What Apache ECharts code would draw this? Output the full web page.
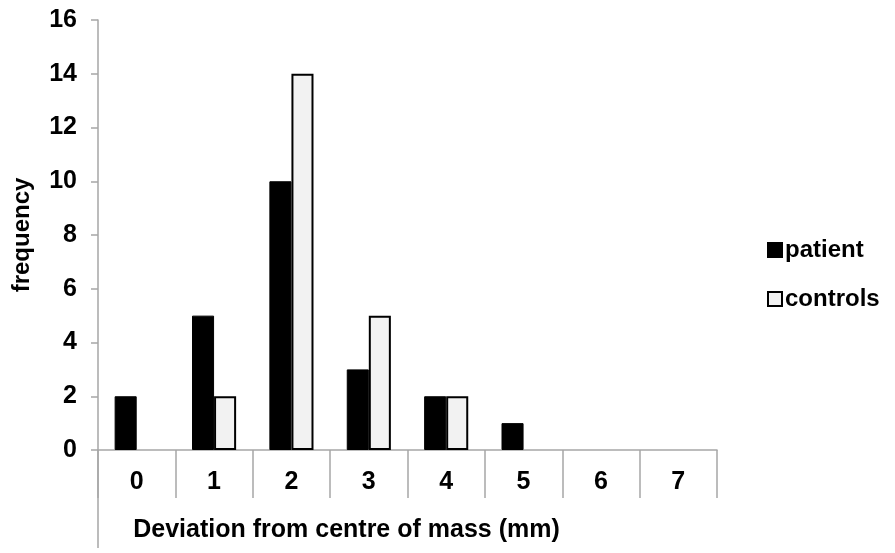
<!DOCTYPE html>
<html><head><meta charset="utf-8">
<script src="https://cdn.jsdelivr.net/npm/echarts@6/dist/echarts.min.js"></script>
<style>html,body{margin:0;padding:0;background:#fff}#c{width:895px;height:553px}</style>
</head><body><div id="c"></div>
<script>
const categories = ['0','1','2','3','4','5','6','7'];
const patient = [2,5,10,3,2,1,0,0];
const controls = [0,2,14,5,2,0,0,0];
const yTicks = [0,2,4,6,8,10,12,14,16];

const FONT = '"Liberation Sans", Arial, sans-serif';
const hideZero = arr => arr.map(v => v === 0 ? null : v);
const chart = echarts.init(document.getElementById('c'));
chart.setOption({
  animation: false,
  grid: {left: 98, right: 178, top: 20, bottom: 103, containLabel: false, outerBoundsMode: 'none'},
  legend: {
    orient: 'vertical', left: 762, top: 233, itemGap: 25,
    itemWidth: 14, itemHeight: 14,
    textStyle: {fontFamily: FONT, fontWeight: 'bold', fontSize: 24, color: '#000', padding: [0,0,0,-2]},
    data: [{name: 'patient', icon: 'rect'}, {name: 'controls', icon: 'rect'}]
  },
  xAxis: {
    type: 'category', data: categories, boundaryGap: true,
    axisLine: {lineStyle: {color: '#a6a6a6', width: 1.5}},
    axisTick: {show: true, length: 48, interval: 0, lineStyle: {color: '#a6a6a6', width: 1.5}},
    axisLabel: {fontFamily: FONT, fontWeight: 'bold', fontSize: 25, color: '#000', margin: 20},
    name: 'Deviation from centre of mass (mm)', nameLocation: 'middle', nameGap: 68,
    nameTextStyle: {fontFamily: FONT, fontWeight: 'bold', fontSize: 25, color: '#000', padding: [0,122,0,0]}
  },
  yAxis: {
    type: 'value', min: 0, max: 16, interval: 2,
    splitLine: {show: false},
    axisLine: {show: true, lineStyle: {color: '#a6a6a6', width: 1.5}},
    axisTick: {show: true, length: 7, lineStyle: {color: '#a6a6a6', width: 1.5}},
    axisLabel: {fontFamily: FONT, fontWeight: 'bold', fontSize: 25, color: '#000', margin: 21,
      formatter: v => yTicks.includes(v) ? String(v) : ''},
    name: 'frequency', nameLocation: 'middle', nameGap: 64, nameRotate: 90,
    nameTextStyle: {fontFamily: FONT, fontWeight: 'bold', fontSize: 24, color: '#000'}
  },
  series: [
    {name: 'patient', type: 'bar', data: hideZero(patient), barGap: '0%', barCategoryGap: '43%',
     itemStyle: {color: '#000', borderColor: '#000', borderWidth: 1}},
    {name: 'controls', type: 'bar', data: hideZero(controls),
     itemStyle: {color: '#f2f2f2', borderColor: '#000', borderWidth: 2}}
  ]
});
// long left boundary line below the axis (Excel-style category frame)
const yBase = chart.convertToPixel({yAxisIndex: 0}, 0);
const xLeft = chart.getModel().getComponent('grid').coordinateSystem.getRect().x;
chart.setOption({graphic: [{type: 'line', shape: {x1: xLeft, y1: yBase, x2: xLeft, y2: yBase + 98},
  style: {stroke: '#a6a6a6', lineWidth: 1.5}, silent: true}]});
</script></body></html>
